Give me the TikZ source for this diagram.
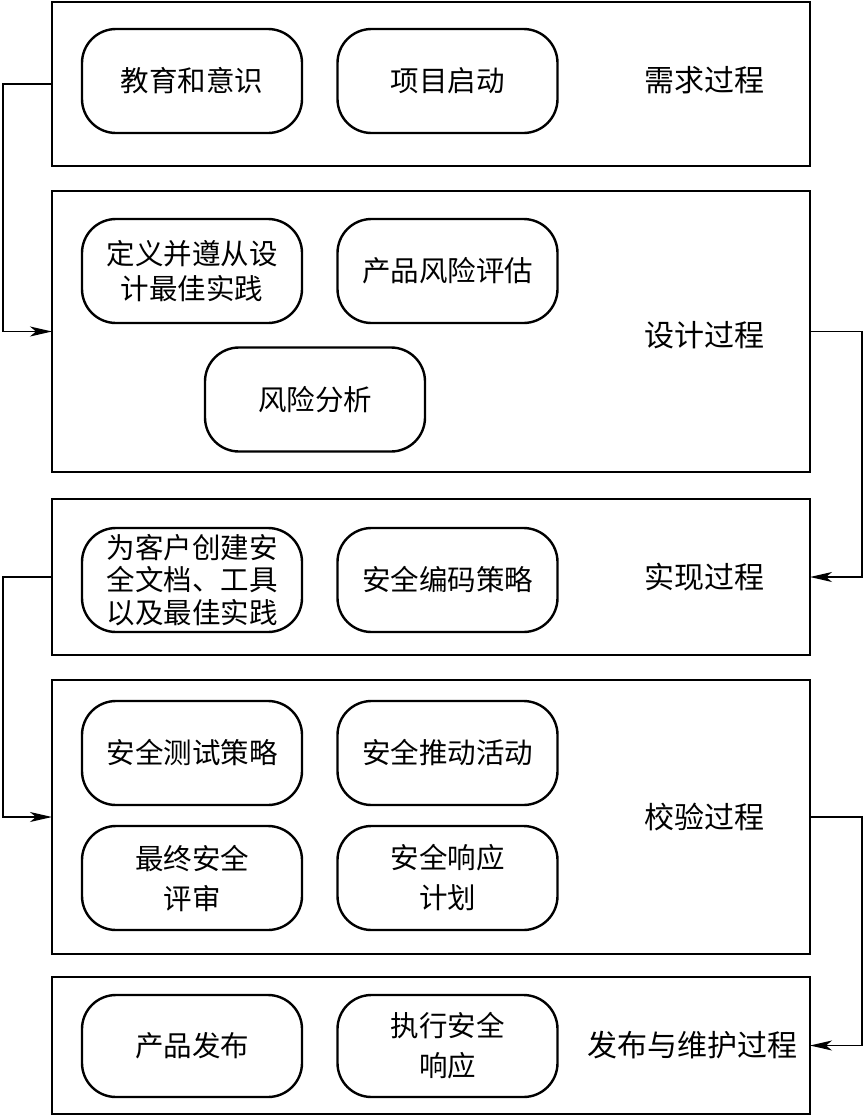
\documentclass[tikz,border=0pt]{standalone}
\usepackage{fontspec}
\newfontfamily\cjk{Noto Sans CJK SC}
\usetikzlibrary{arrows.meta}
\begin{document}
\begin{tikzpicture}[x=1pt,y=-1pt,
  stage/.style={draw,line width=2.8pt,rectangle,inner sep=0pt,outer sep=0pt},
  act/.style={draw,line width=2.4pt,rounded corners=34pt,minimum width=220pt,minimum height=104pt,
     inner sep=0pt,outer sep=0pt,align=center,font=\cjk\fontsize{28.5}{35}\selectfont},
  lab/.style={font=\cjk\fontsize{30}{35}\selectfont,inner sep=0pt},
  flow/.style={line width=1.4pt,-{Stealth[length=22pt,width=10pt,inset=6pt]}}]
\useasboundingbox (0,0) rectangle (863,1117);
% stages
\node[stage,minimum width=758pt,minimum height=164pt] (b1) at (431,84) {};
\node[stage,minimum width=758pt,minimum height=281pt] (b2) at (431,331.5) {};
\node[stage,minimum width=758pt,minimum height=156pt] (b3) at (431,577) {};
\node[stage,minimum width=758pt,minimum height=274pt] (b4) at (431,817) {};
\node[stage,minimum width=758pt,minimum height=137pt] (b5) at (431,1045.5) {};
% stage labels
\node[lab] (l1) at (704,80) {需求过程};
\node[lab] (l2) at (704,335) {设计过程};
\node[lab] (l3) at (704,577) {实现过程};
\node[lab] (l4) at (704,817) {校验过程};
\node[lab] (l5) at (692,1045) {发布与维护过程};
% activities
\node[act] (a11) at (192,81) {教育和意识};
\node[act] (a12) at (447.5,81) {项目启动};
\node[act] (a21) at (192,271) {定义并遵从设\\计最佳实践};
\node[act] (a22) at (447.5,271) {产品风险评估};
\node[act] (a23) at (315,399.5) {风险分析};
\node[act,font=\cjk\fontsize{28.5}{32.5}\selectfont] (a31) at (192,580) {为客户创建安\\全文档、工具\\以及最佳实践};
\node[act] (a32) at (447.5,580) {安全编码策略};
\node[act] (a41) at (192,753) {安全测试策略};
\node[act] (a42) at (447.5,753) {安全推动活动};
\node[act,font=\cjk\fontsize{28.5}{40}\selectfont] (a43) at (192,878) {最终安全\\评审};
\node[act,font=\cjk\fontsize{28.5}{40}\selectfont] (a44) at (447.5,878) {安全响应\\计划};
\node[act,minimum height=102pt] (a51) at (192,1046) {产品发布};
\node[act,minimum height=102pt,font=\cjk\fontsize{28.5}{40}\selectfont] (a52) at (447.5,1046) {执行安全\\响应};
% flow connectors
\draw[flow] (b1.west) -- ++(-49,0) |- (b2.west);
\draw[flow] (b2.east) -- ++(52,0) |- (b3.east);
\draw[flow] (b3.west) -- ++(-49,0) |- (b4.west);
\draw[flow] (b4.east) -- ++(52,0) |- (b5.east);
\end{tikzpicture}
\end{document}
